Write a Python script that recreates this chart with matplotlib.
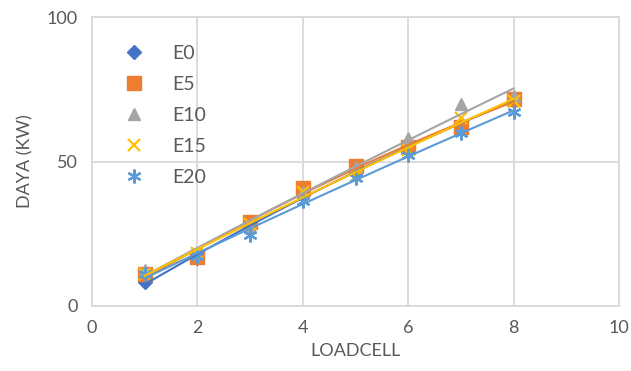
import numpy as np
import matplotlib
matplotlib.use("Agg")
import matplotlib.pyplot as plt

loadcell = [1, 2, 3, 4, 5, 6, 7, 8]
e0 = [8.3, 16.5, 27.5, 38.5, 46.5, 55.0, 63.0, 71.0]
e5 = [11.0, 17.0, 29.0, 41.0, 48.5, 55.0, 62.0, 71.5]
e10 = [12.5, 18.5, 27.5, 39.5, 48.0, 58.0, 70.0, 72.5]
e15 = [11.0, 18.5, 28.5, 39.5, 45.0, 54.0, 65.0, 71.0]
e20 = [11.0, 17.2, 24.5, 36.5, 44.2, 52.3, 60.0, 67.0]
series_names = ["E0", "E5", "E10", "E15", "E20"]
series_values = [e0, e5, e10, e15, e20]
colors = ["#4472C4", "#ED7D31", "#A5A5A5", "#FFC000", "#5B9BD5"]
markers = ["D", "s", "^", "x", (6, 2, 0)]
msizes = [7, 10, 9, 9, 10]

plt.rcParams['font.family'] = ['Lato', 'DejaVu Sans']
fig = plt.figure(figsize=(6.31, 3.71), dpi=100)
ax = fig.add_axes([92/631, 1 - 306/371, (619-92)/631, (306-17)/371])

x = np.array(loadcell, dtype=float)
xs = np.linspace(x.min(), x.max(), 100)
for name, vals, c, m, ms in zip(series_names, series_values, colors, markers, msizes):
    y = np.array(vals)
    mew = 1.6 if m in ("x",) or isinstance(m, tuple) else 1
    ax.plot(x, y, linestyle='none', marker=m, color=c, markersize=ms,
            markeredgewidth=mew, markeredgecolor=c, label=name, zorder=3)
for vals, c in zip(series_values, colors):
    p = np.polyfit(x, np.array(vals), 2)
    ax.plot(xs, np.polyval(p, xs), color=c, lw=1.5, zorder=4)

ax.set_xlim(0, 10)
ax.set_ylim(0, 100)
ax.set_xticks([0, 2, 4, 6, 8, 10])
ax.set_yticks([0, 50, 100])
ax.grid(True, color="#D9D9D9", lw=1.3)
ax.set_axisbelow(True)
for s in ax.spines.values():
    s.set_color("#D9D9D9")
    s.set_linewidth(1.3)
ax.tick_params(length=0, labelsize=13, colors="#595959", pad=10)
ax.set_xlabel("LOADCELL", fontsize=13, color="#595959", labelpad=5)
ax.set_ylabel("DAYA (KW)", fontsize=13, color="#595959", labelpad=10)
leg = ax.legend(loc="upper left", bbox_to_anchor=(0.018, 0.965), frameon=False,
                fontsize=14, labelspacing=0.72, handletextpad=1.25, borderaxespad=0.5,
                labelcolor="#595959", handlelength=1.5)
fig.savefig("out.png", dpi=100)
